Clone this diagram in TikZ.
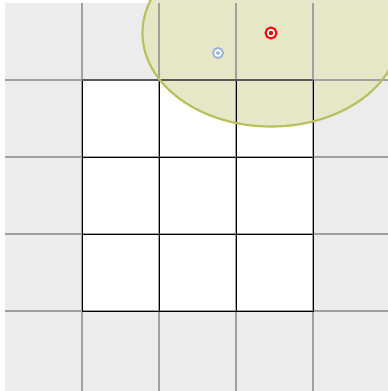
\documentclass[tikz,border=0pt]{standalone}
\definecolor{bggray}{RGB}{236,236,236}
\definecolor{gridgray}{RGB}{160,160,160}
\definecolor{zonefill}{RGB}{229,231,198}
\definecolor{zoneline}{RGB}{184,192,96}
\definecolor{markblue}{RGB}{160,184,216}
\definecolor{edgegray}{RGB}{90,90,90}
\begin{document}
\begin{tikzpicture}[x=1pt,y=-1pt,
  gridline/.style={draw=gridgray,line width=1.3pt},
  cellbox/.style={draw=black,line width=1pt},
  zone/.style={draw=zoneline,line width=2.2pt},
  redmark/.style={circle,draw=red,line width=2pt,minimum size=11pt,inner sep=0pt,fill=white},
  bluemark/.style={circle,draw=markblue,line width=2pt,minimum size=10pt,inner sep=0pt,fill=white}]
\useasboundingbox (0,0) rectangle (388,391);
\clip (0,0) rectangle (388,391);
\fill[bggray] (5,3) rectangle (388,391);
\fill[white] (82,80) rectangle (313,311);
% zone fill
\fill[zonefill,fill opacity=0.95] (271,33) ellipse [x radius=128.5, y radius=93.5];
% grid lines
\foreach \v in {82,159,236,313} {
  \draw[gridline] (\v,3) -- (\v,391);
}
\foreach \h in {80,157,234,311} {
  \draw[gridline] (5,\h) -- (388,\h);
}
% cell borders
\foreach \cx in {82,159,236} {
  \foreach \cy in {80,157,234} {
    \draw[cellbox] (\cx,\cy) rectangle ++(77,77);
  }
}
\draw[edgegray,line width=1.3pt] (82,80) -- (313,80);
% zone outline
\draw[zone] (271,33) ellipse [x radius=128.5, y radius=93.5];
% markers
\node[redmark] (r) at (271,33) {};
\fill[red] (r.center) circle (2.2);
\node[bluemark] (b) at (218,53) {};
\fill[markblue] (b.center) circle (2);
\end{tikzpicture}
\end{document}
